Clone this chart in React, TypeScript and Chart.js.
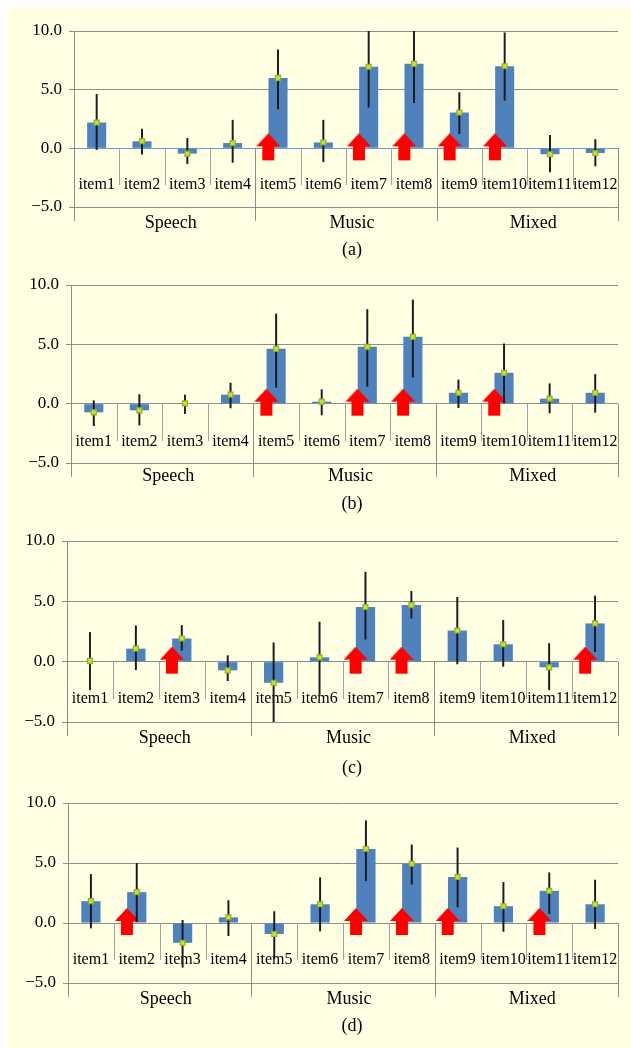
import React, { useEffect, useRef } from 'react';
import { Chart, registerables } from 'chart.js';

Chart.register(...registerables);

// ---------- data ----------
const ITEMS = ['item1', 'item2', 'item3', 'item4', 'item5', 'item6', 'item7', 'item8', 'item9', 'item10', 'item11', 'item12'];
const GROUPS = ['Speech', 'Music', 'Mixed'];
const GROUP_SIZES = [4, 4, 4];
const Y_MIN = -5;
const Y_MAX = 10;
const Y_STEP = 5;
const CAPTIONS = ['(a)', '(b)', '(c)', '(d)'];

const MEAN_A = [2.2, 0.6, -0.45, 0.45, 6.0, 0.5, 6.95, 7.2, 3.05, 7.0, -0.5, -0.4];
const LOW_A = [-0.1, -0.5, -1.3, -1.2, 3.35, -1.15, 3.5, 3.9, 1.25, 4.1, -2.0, -1.5];
const HIGH_A = [4.6, 1.65, 0.85, 2.4, 8.4, 2.4, 10.0, 10.0, 4.75, 9.85, 1.1, 0.75];
const ARROWS_A = [4, 6, 7, 8, 9];

const MEAN_B = [-0.73, -0.56, 0.02, 0.76, 4.62, 0.17, 4.79, 5.63, 0.92, 2.6, 0.42, 0.92];
const LOW_B = [-1.85, -1.8, -0.84, -0.36, 1.37, -0.95, 1.46, 2.24, -0.34, 0.06, -0.78, -0.73];
const HIGH_B = [0.25, 0.76, 0.73, 1.74, 7.56, 1.18, 7.93, 8.74, 2.0, 5.04, 1.68, 2.46];
const ARROWS_B = [4, 6, 7, 9];

const MEAN_C = [0.06, 1.08, 1.92, -0.72, -1.75, 0.36, 4.53, 4.69, 2.58, 1.44, -0.47, 3.17];
const LOW_C = [-2.33, -0.67, 0.94, -1.58, -4.97, -2.72, 1.86, 3.61, -0.19, -0.39, -2.33, 0.83];
const HIGH_C = [2.42, 2.97, 3.0, 0.5, 1.56, 3.28, 7.42, 5.83, 5.33, 3.42, 1.5, 5.44];
const ARROWS_C = [2, 6, 7, 11];

const MEAN_D = [1.82, 2.57, -1.65, 0.47, -0.92, 1.56, 6.17, 4.94, 3.83, 1.4, 2.68, 1.56];
const LOW_D = [-0.42, 0.11, -3.69, -1.06, -2.99, -0.67, 3.52, 3.24, 1.34, -0.7, 0.78, -0.47];
const HIGH_D = [4.05, 4.97, 0.22, 1.87, 0.95, 3.77, 8.52, 6.51, 6.26, 3.38, 4.19, 3.58];
const ARROWS_D = [1, 6, 7, 8, 10];

const MEANS = [MEAN_A, MEAN_B, MEAN_C, MEAN_D];
const LOWS = [LOW_A, LOW_B, LOW_C, LOW_D];
const HIGHS = [HIGH_A, HIGH_B, HIGH_C, HIGH_D];
const ARROWS = [ARROWS_A, ARROWS_B, ARROWS_C, ARROWS_D];

// ---------- layout / style ----------
const PAGE_W = 631;
const PAGE_H = 1048;
const BG = '#FFFFE3';
const FONT = "'Liberation Serif', 'Times New Roman', serif";
const BAR_COLOR = '#4F81BD';
const GRID_COLOR = '#8C8C8C';
const SEP_COLOR = '#A2A2A2';
const ERR_COLOR = '#1A1A1A';
const MARK_FILL = '#C6DE45';
const MARK_EDGE = '#94B21A';
const ARROW_COLOR = '#FF0000';
const ARROW_SHIFT = -0.215;

const PANEL_LEFT = [74, 71, 67, 68];
const PANEL_RIGHT = [618, 619, 621, 622];
const PANEL_TOP = [31, 285, 541, 803];
const PANEL_BOTTOM = [207, 463, 722, 983];
const ITEM_DY = [36.5, 38, 36.5, 36.5];
const GROUP_DY = [16, 13.5, 16, 16];
const CAP_DY = [43.5, 41.5, 46.5, 43.5];
const ZERO_COLORS = ['#6F96CA', GRID_COLOR, GRID_COLOR, GRID_COLOR];
const PAD_TOP = 20;
const PAD_BOTTOM = 72;
const CAPTION_X = 352;
const GROUP_SHIFT = 6;

function makeArrow(): HTMLCanvasElement {
  const c = document.createElement('canvas');
  c.width = 24;
  c.height = 30;
  const g = c.getContext('2d')!;
  g.fillStyle = ARROW_COLOR;
  g.beginPath();
  g.moveTo(12, 0);
  g.lineTo(24, 13);
  g.lineTo(18, 13);
  g.lineTo(18, 27);
  g.lineTo(6, 27);
  g.lineTo(6, 13);
  g.lineTo(0, 13);
  g.closePath();
  g.fill();
  return c;
}

const decorPlugin = {
  id: 'decor',
  beforeDatasetsDraw(chart: any, _args: any, o: any) {
    const { ctx, chartArea: ca } = chart;
    const x = chart.scales.x;
    const y = chart.scales.y;
    const y0 = Math.round(y.getPixelForValue(0));
    const bounds: number[] = [0];
    GROUP_SIZES.forEach((n) => bounds.push(bounds[bounds.length - 1] + n));
    ctx.save();
    ctx.lineWidth = 1;
    for (let i = 0; i <= ITEMS.length; i++) {
      const px = Math.round(x.getPixelForValue(i - 0.5)) + 0.5;
      const isGroup = bounds.includes(i);
      const yEnd = isGroup ? ca.bottom + 14 : y0 + 37;
      ctx.strokeStyle = isGroup ? GRID_COLOR : SEP_COLOR;
      ctx.beginPath();
      ctx.moveTo(px, i === 0 ? ca.bottom : y0);
      ctx.lineTo(px, yEnd);
      ctx.stroke();
    }
    ctx.fillStyle = '#000';
    ctx.textAlign = 'center';
    ctx.textBaseline = 'middle';
    ctx.font = `16px ${FONT}`;
    ITEMS.forEach((t, i) => ctx.fillText(t, x.getPixelForValue(i), y0 + o.itemDy));
    ctx.font = `18px ${FONT}`;
    let s = 0;
    GROUPS.forEach((g, k) => {
      const n = GROUP_SIZES[k];
      const cx = x.getPixelForValue(s + (n - 1) / 2) + GROUP_SHIFT;
      ctx.fillText(g, cx, ca.bottom + o.groupDy);
      s += n;
    });
    ctx.fillText(o.caption, CAPTION_X, ca.bottom + o.capDy);
    ctx.restore();
  },
};

function Panel({ idx, arrow }: { idx: number; arrow: HTMLCanvasElement }) {
  const ref = useRef<HTMLCanvasElement>(null);
  const L = PANEL_LEFT[idx];
  const R = PANEL_RIGHT[idx];
  const T = PANEL_TOP[idx];
  const B = PANEL_BOTTOM[idx];
  const H = B - T + PAD_TOP + PAD_BOTTOM;

  useEffect(() => {
    const means = MEANS[idx];
    const errs = LOWS[idx].map((lo, i) => [lo, HIGHS[idx][i]]);
    const arrows = ARROWS[idx].map((i) => ({ x: i + ARROW_SHIFT, y: 0 }));
    const zeroColor = ZERO_COLORS[idx];
    const chart = new Chart(ref.current!, {
      type: 'bar',
      data: {
        labels: ITEMS,
        datasets: [
          {
            type: 'bar',
            data: means,
            backgroundColor: BAR_COLOR,
            barPercentage: 0.42,
            categoryPercentage: 1,
            grouped: false,
            order: 4,
          } as any,
          {
            type: 'line',
            data: arrows,
            xAxisID: 'xa',
            showLine: false,
            pointStyle: arrow,
            pointRadius: 12,
            clip: false,
            order: 3,
          } as any,
          {
            type: 'bar',
            data: errs,
            backgroundColor: ERR_COLOR,
            barThickness: 1.3,
            grouped: false,
            order: 2,
          } as any,
          {
            type: 'line',
            data: means,
            showLine: false,
            pointStyle: 'rect',
            pointRadius: 3.5,
            pointBackgroundColor: MARK_FILL,
            pointBorderColor: MARK_EDGE,
            pointBorderWidth: 1.2,
            order: 1,
          } as any,
        ],
      },
      options: {
        responsive: false,
        animation: false,
        events: [],
        layout: { padding: { top: PAD_TOP, left: 0, right: PAGE_W - R, bottom: PAD_BOTTOM } },
        plugins: {
          legend: { display: false },
          tooltip: { enabled: false },
          decor: { itemDy: ITEM_DY[idx], groupDy: GROUP_DY[idx], capDy: CAP_DY[idx], caption: CAPTIONS[idx] },
        } as any,
        scales: {
          x: { type: 'category', display: false, offset: true },
          xa: { type: 'linear', display: false, min: -0.5, max: ITEMS.length - 0.5, offset: false },
          y: {
            type: 'linear',
            min: Y_MIN,
            max: Y_MAX,
            afterFit: (scale: any) => {
              scale.width = L;
            },
            ticks: {
              stepSize: Y_STEP,
              padding: 7,
              color: '#000',
              font: { family: FONT, size: 17 },
              callback: (v: any) => (v < 0 ? '\u2212' : '') + Math.abs(Number(v)).toFixed(1),
            },
            grid: {
              color: (c: any) => (c.tick && c.tick.value === 0 ? zeroColor : GRID_COLOR),
              lineWidth: 1,
              tickLength: 5,
              drawTicks: true,
            },
            border: { display: true, color: GRID_COLOR },
          },
        },
      } as any,
      plugins: [decorPlugin],
    });
    return () => chart.destroy();
  }, [idx, arrow]);

  return (
    <canvas
      ref={ref}
      width={PAGE_W}
      height={H}
      style={{ position: 'absolute', left: 0, top: T - PAD_TOP, width: PAGE_W, height: H }}
    />
  );
}

export default function App() {
  const arrowRef = useRef<HTMLCanvasElement | null>(null);
  if (!arrowRef.current) arrowRef.current = makeArrow();
  return (
    <div style={{ position: 'absolute', left: 0, top: 0, width: PAGE_W, height: PAGE_H, overflow: 'hidden', background: '#fff' }}>
      <div style={{ position: 'absolute', left: 7, top: 7, width: PAGE_W - 7, height: PAGE_H - 7, background: BG }} />
      {[0, 1, 2, 3].map((i) => (
        <Panel key={i} idx={i} arrow={arrowRef.current!} />
      ))}
    </div>
  );
}
